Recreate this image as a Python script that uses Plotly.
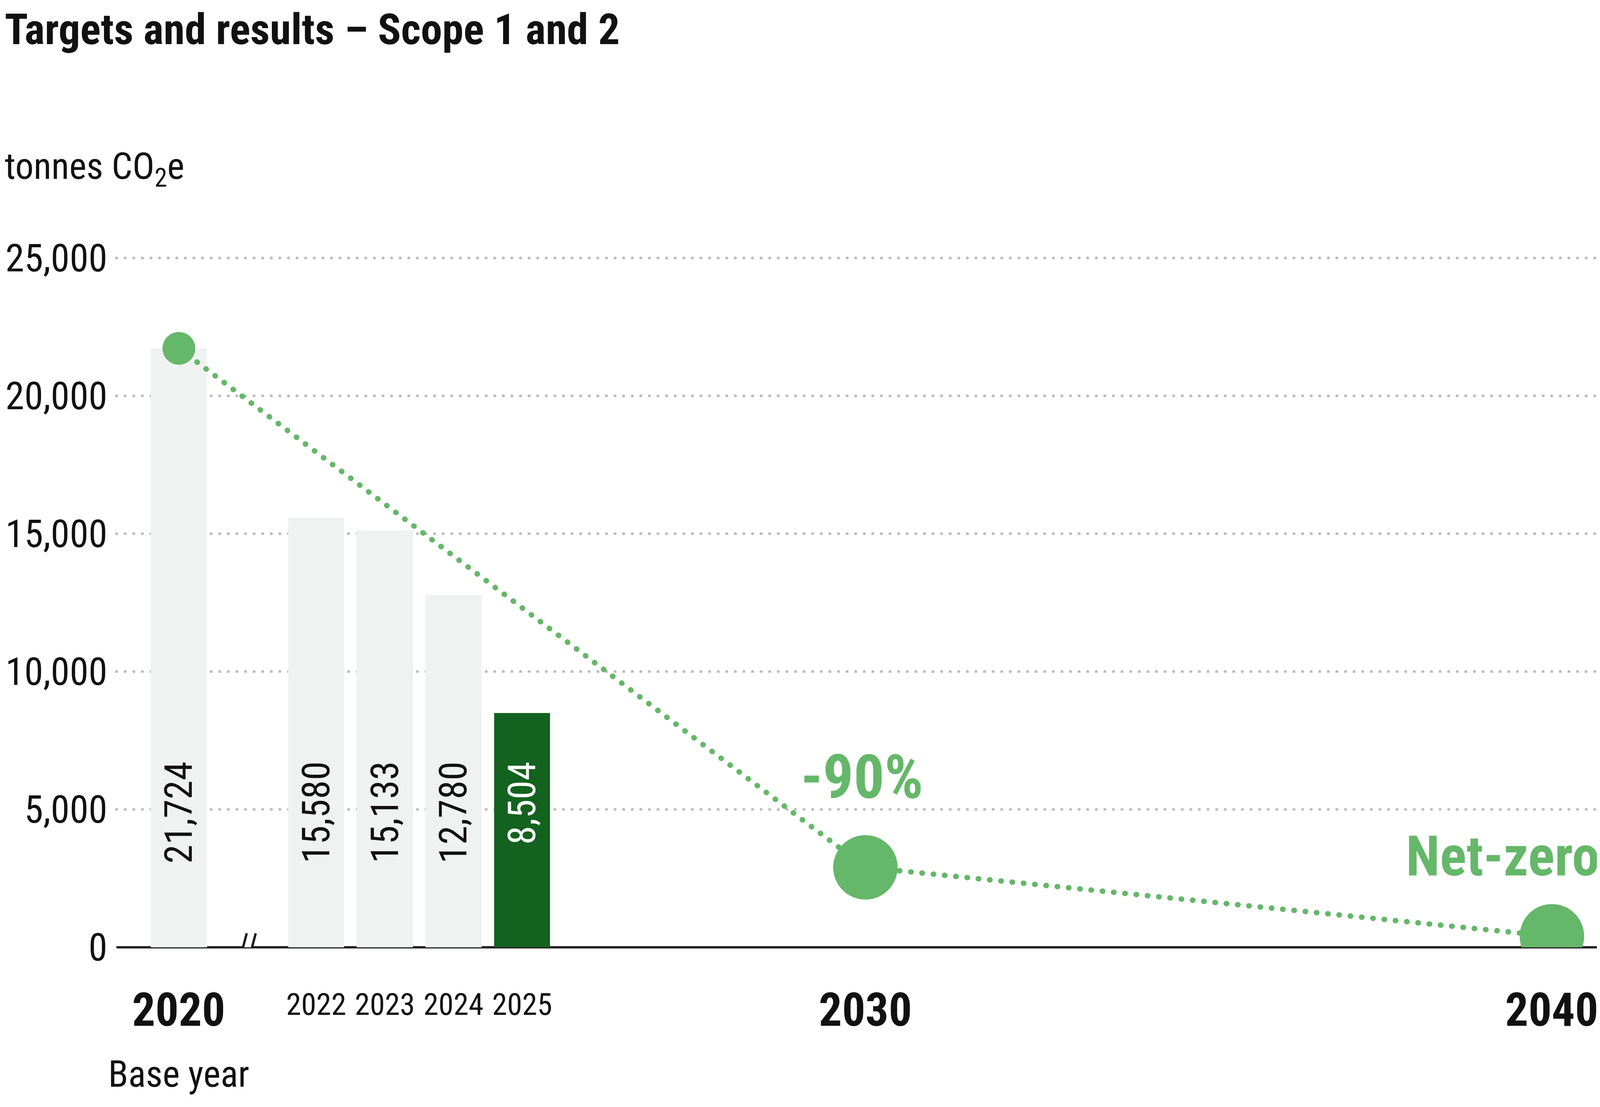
import plotly.graph_objects as go

# ---------------- data ----------------
years_actual = [2020, 2022, 2023, 2024, 2025]
emissions = [21724, 15580, 15133, 12780, 8504]
bar_labels = ["21,724", "15,580", "15,133", "12,780", "8,504"]

target_years = [2020, 2030, 2040]
target_values = [21724, 2900, 400]

y_ticks = [0, 5000, 10000, 15000, 20000, 25000]
minor_years = [2022, 2023, 2024, 2025]
major_years = [2020, 2030, 2040]
major_sub = ["Base year", "", ""]

title_text = "Targets and results – Scope 1 and 2"
unit_text = "tonnes CO<sub>2</sub>e"
target_2030_label = "-90%"
target_2040_label = "Net-zero"
break_year = 2021

# ---------------- style ----------------
# The browser viewport that photographs the page is 4096 px wide, so the
# figure is laid out to fill that width (same proportions as the reference).
FONT = "Roboto Condensed, Roboto, sans-serif"
GREEN = "#65b769"
DARK = "#13621f"
GRAY_BAR = "#f0f2f1"
GRID = "#bdbdbd"
INK = "#111111"
W, H = 4096, 2835
ML, MR, MT, MB = 290, 7, 650, 417
PW, PH = W - ML - MR, H - MT - MB
X_RANGE = [2019.09, 2040.706]
Y_RANGE = [0, 25040]
LABEL_Y = 6770

bar_colors = [GRAY_BAR] * 4 + [DARK]
label_colors = [INK] * 4 + ["#ffffff"]

fig = go.Figure()
fig.add_trace(go.Bar(
    x=years_actual, y=emissions, width=0.816,
    marker=dict(color=bar_colors, line=dict(width=0)),
    hoverinfo="skip", showlegend=False,
))
fig.add_trace(go.Scatter(
    x=target_years, y=target_values, mode="lines+markers",
    line=dict(color=GREEN, width=14, dash="1px,28px"),
    marker=dict(color=GREEN, size=[84, 165, 165], line=dict(width=0), opacity=1),
    hoverinfo="skip", showlegend=False,
))

annotations = []
for yr, lbl, col in zip(years_actual, bar_labels, label_colors):
    annotations.append(dict(
        x=yr, y=LABEL_Y, xref="x", yref="y", text=lbl, textangle=-90,
        xanchor="center", yanchor="top", showarrow=False,
        font=dict(family=FONT, size=98, color=col),
    ))

for yr, sub in zip(major_years, major_sub):
    annotations.append(dict(
        x=yr, y=0, xref="x", yref="y", text="<b>%d</b>" % yr,
        xanchor="center", yanchor="top", yshift=-90, showarrow=False,
        font=dict(family=FONT, size=118, color=INK),
    ))
    if sub:
        annotations.append(dict(
            x=yr, y=0, xref="x", yref="y", text=sub,
            xanchor="center", yanchor="top", yshift=-268, showarrow=False,
            font=dict(family=FONT, size=94, color=INK),
        ))

annotations.append(dict(
    x=target_years[1], y=target_values[1], xref="x", yref="y",
    text="<b>%s</b>" % target_2030_label, xanchor="center", yanchor="bottom",
    xshift=-8, yshift=138, showarrow=False,
    font=dict(family=FONT, size=156, color=GREEN),
))
annotations.append(dict(
    x=1, y=target_values[2], xref="paper", yref="y",
    text="<b>%s</b>" % target_2040_label, xanchor="right", yanchor="bottom",
    yshift=119, showarrow=False,
    font=dict(family=FONT, size=142, color=GREEN),
))
annotations.append(dict(
    x=(2 - ML) / PW, y=(H - MB - 361) / PH, xref="paper", yref="paper",
    text=unit_text, xanchor="left", yanchor="top", showarrow=False,
    font=dict(family=FONT, size=94, color=INK),
))

shapes = [
    dict(type="rect", xref="x", yref="y", xsizemode="pixel", ysizemode="pixel",
         xanchor=break_year, yanchor=0, x0=-11, x1=11, y0=-6, y1=6,
         fillcolor="#ffffff", line=dict(width=0), layer="above"),
    dict(type="line", xref="x", yref="y", xsizemode="pixel", ysizemode="pixel",
         xanchor=break_year, yanchor=0, x0=-21, x1=-2, y0=-36, y1=36,
         line=dict(color="#1a1a1a", width=6), layer="above"),
    dict(type="line", xref="x", yref="y", xsizemode="pixel", ysizemode="pixel",
         xanchor=break_year, yanchor=0, x0=2, x1=21, y0=-36, y1=36,
         line=dict(color="#1a1a1a", width=6), layer="above"),
]

fig.update_layout(
    width=W, height=H, autosize=False,
    margin=dict(l=ML, r=MR, t=MT, b=MB, pad=0),
    paper_bgcolor="#ffffff", plot_bgcolor="#ffffff",
    showlegend=False, bargap=0,
    title=dict(text="<b>%s</b>" % title_text, x=4 / W, xref="container", xanchor="left",
               y=1 - 28 / H, yref="container", yanchor="top",
               font=dict(family=FONT, size=110, color=INK)),
    annotations=annotations, shapes=shapes,
    xaxis=dict(type="linear", range=X_RANGE, tickmode="array",
               tickvals=minor_years, ticktext=[str(y) for y in minor_years],
               showgrid=False, zeroline=False, showline=False, ticks="",
               ticklabelstandoff=94, automargin=False,
               tickfont=dict(family=FONT, size=78, color=INK), fixedrange=True),
    yaxis=dict(range=Y_RANGE, tickmode="array", tickvals=y_ticks,
               tickformat=",d", showgrid=True, gridcolor=GRID, gridwidth=7,
               griddash="1px,21px", zeroline=True, zerolinecolor="#222222",
               zerolinewidth=6, showline=False, ticks="", ticklabelstandoff=22,
               automargin=False,
               tickfont=dict(family=FONT, size=98, color=INK), fixedrange=True),
)

css = ".gridlayer path, .scatterlayer .js-line {stroke-linecap: round !important;}"
post = "var s=document.createElement('style');s.innerHTML='%s';document.head.appendChild(s);" % css
fig.write_html("out.html", post_script=post)
